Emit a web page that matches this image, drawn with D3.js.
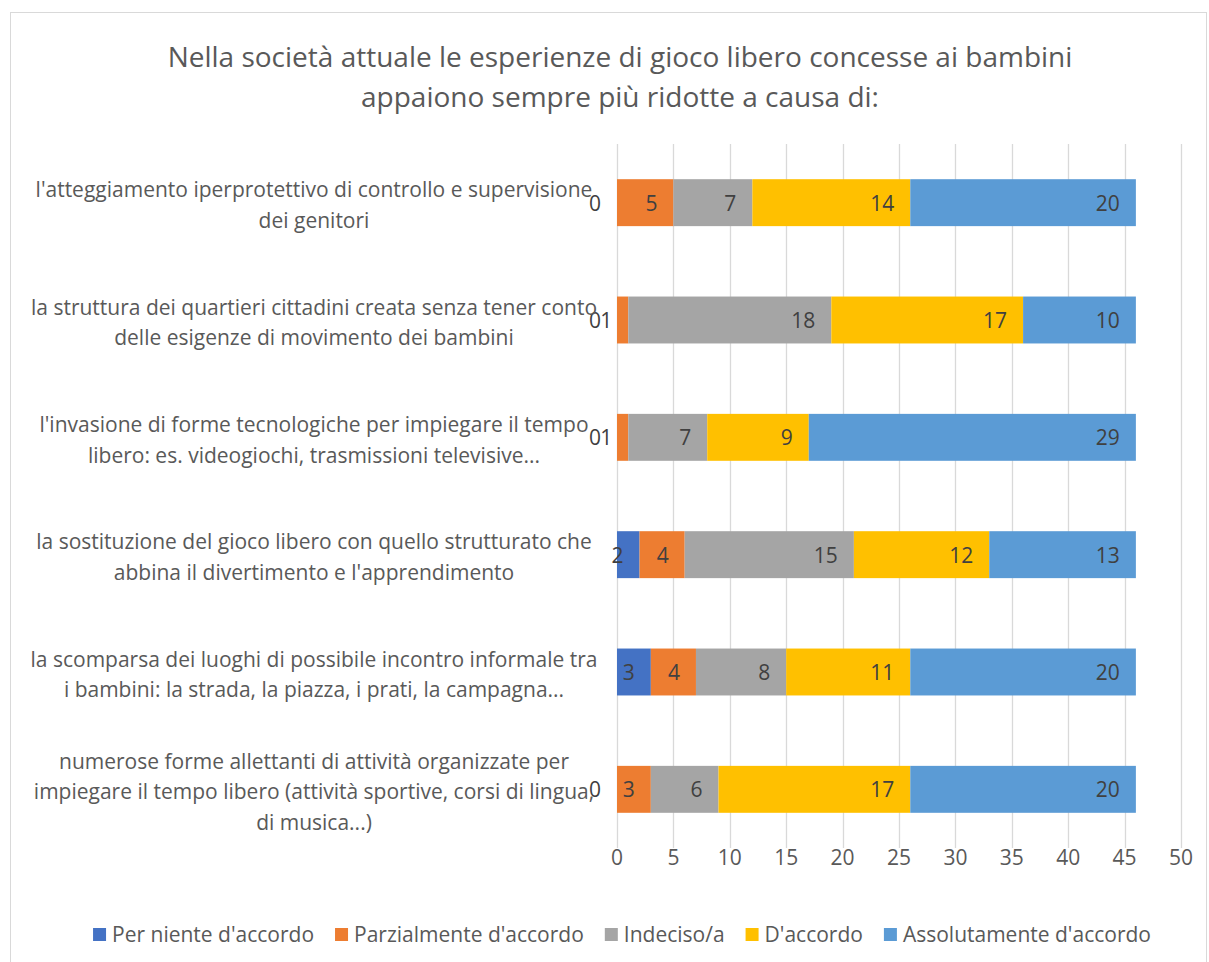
<!DOCTYPE html>
<html lang="it">
<head>
  <meta charset="UTF-8">
  <title>Gioco libero</title>
  <script src="https://d3js.org/d3.v7.min.js"></script>
  <style>
    body { margin: 0; background: #fff; }
    text { font-family: "Open Sans", sans-serif; }
  </style>
</head>
<body>
  <script>
    const titleLines = [
      'Nella società attuale le esperienze di gioco libero concesse ai bambini',
      'appaiono sempre più ridotte a causa di:'
    ];

    // wrapped as in the original chart
    const categories = [
      ["l'atteggiamento iperprotettivo di controllo e supervisione", 'dei genitori'],
      ['la struttura dei quartieri cittadini creata senza tener conto', 'delle esigenze di movimento dei bambini'],
      ["l'invasione di forme tecnologiche per impiegare il tempo", 'libero: es. videogiochi, trasmissioni televisive...'],
      ['la sostituzione del gioco libero con quello strutturato che', "abbina il divertimento e l'apprendimento"],
      ['la scomparsa dei luoghi di possibile incontro informale tra', 'i bambini: la strada, la piazza, i prati, la campagna...'],
      ['numerose forme allettanti di attività organizzate per', 'impiegare il tempo libero (attività sportive, corsi di lingua,', 'di musica...)']
    ];

    const seriesNames = ["Per niente d'accordo", "Parzialmente d'accordo", 'Indeciso/a', "D'accordo", "Assolutamente d'accordo"];
    const perNiente     = [0, 0, 0, 2, 3, 0];
    const parzialmente  = [5, 1, 1, 4, 4, 3];
    const indeciso      = [7, 18, 7, 15, 8, 6];
    const daccordo      = [14, 17, 9, 12, 11, 17];
    const assolutamente = [20, 10, 29, 13, 20, 20];
    const xTicks = [0, 5, 10, 15, 20, 25, 30, 35, 40, 45, 50];

    const colors = ['#4472C4', '#ED7D31', '#A5A5A5', '#FFC000', '#5B9BD5'];
    const seriesValues = [perNiente, parzialmente, indeciso, daccordo, assolutamente];

    const W = 1209, H = 962;
    const svg = d3.select('body').append('svg').attr('width', W).attr('height', H);

    svg.append('rect')
      .attr('x', 10.5).attr('y', 12.5).attr('width', 1196).attr('height', 970)
      .attr('fill', '#fff').attr('stroke', '#D9D9D9');

    svg.append('g').selectAll('text')
      .data(titleLines)
      .enter().append('text')
        .attr('x', 620).attr('y', (d, i) => 67 + i * 40)
        .attr('text-anchor', 'middle')
        .attr('fill', '#595959').style('font-size', '28px')
        .text(d => d);

    const x = d3.scaleLinear().domain([0, 50]).range([617, 1181]);
    const y = d3.scaleBand().domain(d3.range(categories.length)).range([144, 848]).paddingInner(0.6).paddingOuter(0.3);

    // gridlines
    svg.append('g').selectAll('line')
      .data(xTicks)
      .enter().append('line')
        .attr('x1', d => Math.round(x(d)) + 0.5).attr('x2', d => Math.round(x(d)) + 0.5)
        .attr('y1', 144).attr('y2', 848)
        .attr('stroke', '#D9D9D9').attr('stroke-width', 1.3);

    // tick labels
    svg.append('g').selectAll('text')
      .data(xTicks)
      .enter().append('text')
        .attr('x', d => x(d)).attr('y', 865)
        .attr('text-anchor', 'middle')
        .attr('fill', '#595959').style('font-size', '21px')
        .text(d => d);

    const stacked = d3.stack().keys(d3.range(seriesNames.length)).value((d, k) => seriesValues[k][d])(d3.range(categories.length));

    const layer = svg.append('g').selectAll('g')
      .data(stacked)
      .enter().append('g')
        .attr('fill', (d, i) => colors[i]);

    layer.selectAll('rect')
      .data(d => d)
      .enter().append('rect')
        .attr('x', d => x(d[0]))
        .attr('y', d => y(d.data))
        .attr('width', d => x(d[1]) - x(d[0]))
        .attr('height', y.bandwidth());

    layer.selectAll('text')
      .data(d => d.map(p => ({ p: p, v: p[1] - p[0], isZero: d.key === 0 })))
      .enter().filter(d => d.v > 0 || d.isZero).append('text')
        .attr('x', d => x(d.p[1]) - 16)
        .attr('y', d => y(d.p.data) + y.bandwidth() / 2 + 8)
        .attr('text-anchor', 'end')
        .attr('fill', '#404040').style('font-size', '21px')
        .text(d => d.v);

    // category labels
    const catG = svg.append('g').selectAll('text')
      .data(categories)
      .enter().append('text')
        .attr('text-anchor', 'middle')
        .attr('fill', '#595959').style('font-size', '21px');
    catG.each(function (lines, i) {
      const cy = y(i) + y.bandwidth() / 2;
      const start = cy - (lines.length - 1) * 30.5 / 2 + 10;
      d3.select(this).selectAll('tspan')
        .data(lines)
        .enter().append('tspan')
          .attr('x', 314)
          .attr('y', (d, j) => start + j * 30.5)
          .text(d => d);
    });

    // legend, laid out from the measured text widths and centred
    const lg = svg.append('g');
    const items = lg.selectAll('g')
      .data(seriesNames)
      .enter().append('g');
    items.append('rect').attr('x', 0).attr('y', -6).attr('width', 13).attr('height', 13)
      .attr('fill', (d, i) => colors[i]);
    items.append('text').attr('x', 19).attr('y', 8)
      .attr('fill', '#595959').style('font-size', '21px')
      .text(d => d);
    let offs = 0;
    const pos = [];
    items.each(function () {
      pos.push(offs);
      offs += 19 + d3.select(this).select('text').node().getComputedTextLength() + 21;
    });
    const total = offs - 21;
    const startX = 622 - total / 2;
    items.attr('transform', (d, i) => `translate(${startX + pos[i]},934)`);
  </script>
</body>
</html>
